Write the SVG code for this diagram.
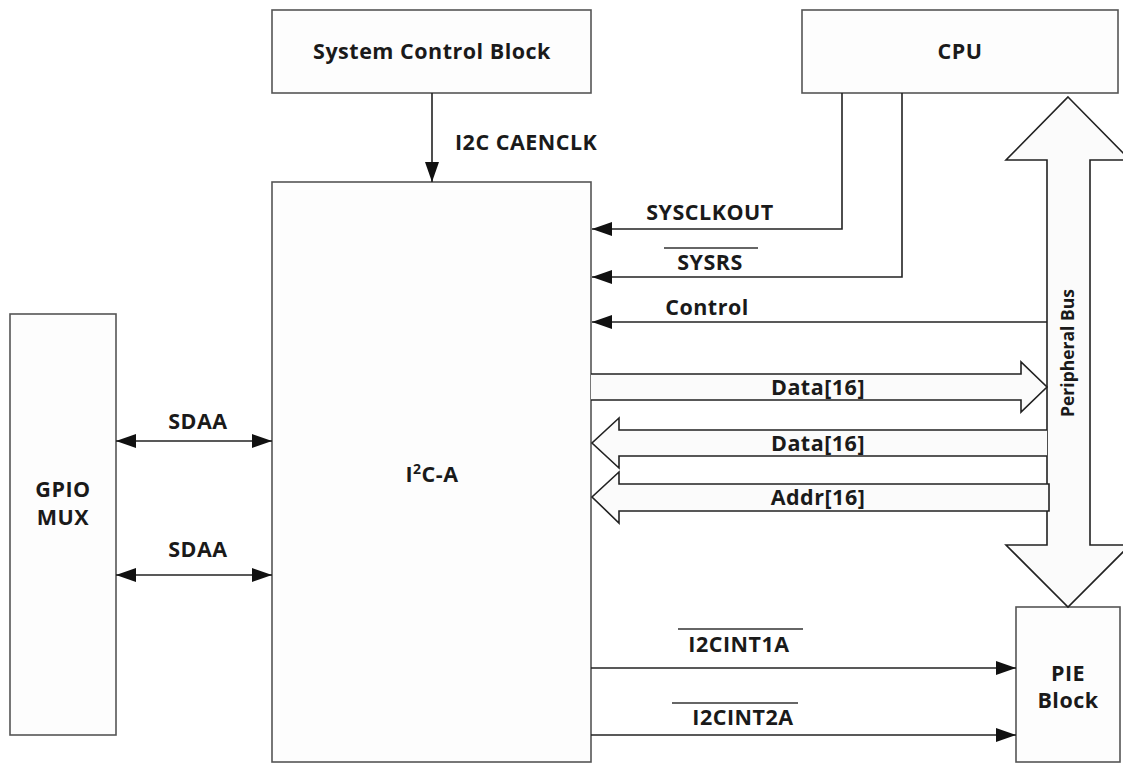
<svg xmlns="http://www.w3.org/2000/svg" width="1123" height="767" viewBox="0 0 1123 767">
<style>
.box{fill:#fdfdfd;stroke:#555;stroke-width:1.6}
.ln{fill:none;stroke:#222;stroke-width:1.6}
.fat{fill:#fbfbfb;stroke:#222;stroke-width:1.6;stroke-linejoin:miter}
text{font-family:"Open Sans","Noto Sans",sans-serif;font-weight:bold;font-size:21.5px;letter-spacing:0.5px;fill:#1a1a1a}
text.bus{font-size:17.5px;letter-spacing:0}
.c{text-anchor:middle}
.ov{stroke:#333;stroke-width:1.3}
</style>
<defs>
<marker id="ah" viewBox="0 0 20 14" refX="20" refY="7" markerWidth="20" markerHeight="14" markerUnits="userSpaceOnUse" orient="auto-start-reverse">
<path d="M0,0 L20,7 L0,14 Z" fill="#111"/>
</marker>
</defs>
<rect width="1123" height="767" fill="#fff"/>
<g id="scb"><rect class="box" x="272" y="10" width="319" height="83"/><text class="c" x="432" y="59">System Control Block</text></g>
<g id="cpu"><rect class="box" x="802" y="10" width="316" height="83"/><text class="c" x="960" y="59">CPU</text></g>
<g id="i2ca"><rect class="box" x="272" y="182" width="319" height="580"/><text class="c" x="432" y="482">I<tspan font-size="14" dy="-8">2</tspan><tspan dy="8">C-A</tspan></text></g>
<g id="gpio"><rect class="box" x="10" y="314" width="106" height="421"/><text class="c" x="63" y="497">GPIO</text><text class="c" x="63" y="525">MUX</text></g>
<g id="pie"><rect class="box" x="1016" y="607" width="104" height="155"/><text class="c" x="1068" y="681">PIE</text><text class="c" x="1068" y="708">Block</text></g>
<g id="bus"><path class="fat" d="M1068,97 L1130,160 L1090,160 L1090,545 L1130,545 L1068,607 L1006,545 L1047,545 L1047,160 L1006,160 Z"/><text class="c bus" transform="translate(1074,353) rotate(-90)">Peripheral Bus</text></g>
<g id="connectors">
<path class="ln" d="M432,93 L432,182" marker-end="url(#ah)"/>
<path class="ln" d="M842,93 L842,229 L592,229" marker-end="url(#ah)"/>
<path class="ln" d="M902,93 L902,277 L592,277" marker-end="url(#ah)"/>
<path class="ln" d="M1047,322 L592,322" marker-end="url(#ah)"/>
<path class="ln" d="M116,441 L272,441" marker-start="url(#ah)" marker-end="url(#ah)"/>
<path class="ln" d="M116,575 L272,575" marker-start="url(#ah)" marker-end="url(#ah)"/>
<path class="ln" d="M591,668 L1016,668" marker-end="url(#ah)"/>
<path class="ln" d="M591,735 L1016,735" marker-end="url(#ah)"/>
<path class="fat" d="M591,374 L1021,374 L1021,362 L1047,387 L1021,412 L1021,400 L591,400"/>
<path class="fat" d="M1047,430 L619,430 L619,418 L592,443 L619,468 L619,456 L1047,456"/>
<path class="fat" d="M1049,484 L619,484 L619,472 L592,497 L619,523 L619,511 L1049,511 Z"/>
</g>
<g id="labels">
<text x="455" y="150">I2C CAENCLK</text>
<text class="c" x="710" y="220">SYSCLKOUT</text>
<text class="c" x="710" y="270">SYSRS</text><line class="ov" x1="664" y1="248" x2="758" y2="248"/>
<text class="c" x="707" y="315">Control</text>
<text class="c" x="818" y="395">Data[16]</text>
<text class="c" x="818" y="451">Data[16]</text>
<text class="c" x="818" y="505">Addr[16]</text>
<text class="c" x="198" y="429">SDAA</text>
<text class="c" x="198" y="557">SDAA</text>
<text class="c" x="739" y="652">I2CINT1A</text><line class="ov" x1="678" y1="629" x2="803" y2="629"/>
<text class="c" x="743" y="725">I2CINT2A</text><line class="ov" x1="672" y1="703" x2="798" y2="703"/>
</g>
</svg>
